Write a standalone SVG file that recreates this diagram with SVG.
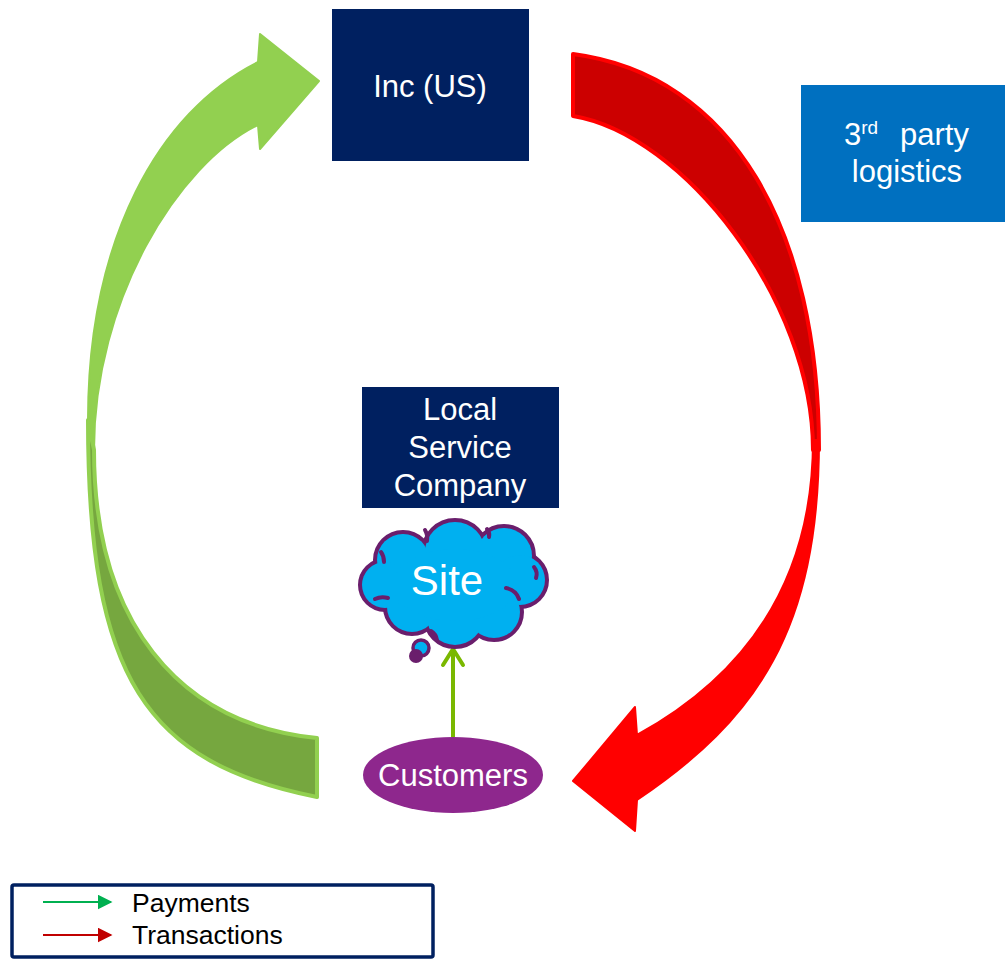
<svg xmlns="http://www.w3.org/2000/svg" xmlns:xlink="http://www.w3.org/1999/xlink" width="1005" height="960" viewBox="0 0 1005 960">
<style>
.lbl{font-family:"Liberation Sans",Arial,sans-serif;fill:#FFFFFF}
.leg{font-family:"Liberation Sans",Arial,sans-serif;fill:#000000;font-size:26.5px}
.navy{fill:#002060}
.cloudArc{fill:none;stroke:#6A1E6C;stroke-width:4;stroke-linecap:round}
</style>
<defs>
<g id="cloudShape">
<circle cx="403" cy="560" r="26"/>
<circle cx="455" cy="552" r="30"/>
<circle cx="504" cy="556" r="28"/>
<circle cx="520" cy="580" r="25"/>
<circle cx="494" cy="612" r="26"/>
<circle cx="455" cy="617" r="28"/>
<circle cx="412" cy="607" r="25"/>
<circle cx="385" cy="585" r="23"/>
<ellipse cx="455" cy="585" rx="62" ry="36"/>
</g>
<marker id="legG" viewBox="0 0 10 10" refX="9" refY="5" markerWidth="15" markerHeight="15" markerUnits="userSpaceOnUse" orient="auto"><path d="M0,0 L10,5 L0,10 Z" fill="#00B050"/></marker>
<marker id="legR" viewBox="0 0 10 10" refX="9" refY="5" markerWidth="15" markerHeight="15" markerUnits="userSpaceOnUse" orient="auto"><path d="M0,0 L10,5 L0,10 Z" fill="#C00000"/></marker>
</defs>
<rect width="1005" height="960" fill="#FFFFFF"/>

<g id="connectors">
<g id="payments-arrow">
<path d="M 88,420 C 88,680 147,763 317,797 L 317,738 C 177,724 94,620 94,450 Z" fill="#76A73F" stroke="#92D050" stroke-width="4" stroke-linejoin="round"/>
<path d="M 88,420 C 88,240 158,112 258,62 L 260,34 L 319,81 L 260,149 L 258,125 C 178,164 94,300 94,450 Z" fill="#92D050" stroke="#92D050" stroke-width="2" stroke-linejoin="round"/>
</g>
<g id="transactions-arrow">
<path d="M 573,54 C 733,75 819,230 819,450 L 813,450 C 813,300 683,134 573,116 Z" fill="#CC0000" stroke="#FF0000" stroke-width="4" stroke-linejoin="round"/>
<path d="M 819,440 C 819,630 757,719 637,800 L 635,831 L 573,781 L 635,707 L 637,735 C 747,674.5 813,580 813,440 Z" fill="#FF0000" stroke="#FF0000" stroke-width="2" stroke-linejoin="round"/>
</g>
<g id="customers-to-site">
<line x1="453" y1="737" x2="453" y2="650" stroke="#7AB800" stroke-width="4"/>
<polyline points="443,665 453,649 463,665" fill="none" stroke="#7AB800" stroke-width="4" stroke-linecap="round" stroke-linejoin="round"/>
</g>
</g>

<g id="inc-us">
<rect x="332" y="9" width="197" height="152" class="navy"/>
<text x="430" y="97" class="lbl" font-size="31" text-anchor="middle">Inc (US)</text>
</g>

<g id="third-party-logistics">
<rect x="801" y="85" width="204" height="137" fill="#0070C0"/>
<text x="844" y="145" class="lbl" font-size="31">3<tspan font-size="19" dy="-11">rd</tspan><tspan x="900" dy="11">party</tspan></text>
<text x="907" y="182" class="lbl" font-size="31" text-anchor="middle">logistics</text>
</g>

<g id="local-service-company">
<rect x="362" y="387" width="197" height="121" class="navy"/>
<text class="lbl" font-size="31" text-anchor="middle"><tspan x="460" y="420">Local</tspan><tspan x="460" y="458">Service</tspan><tspan x="460" y="496">Company</tspan></text>
</g>

<g id="site">
<use xlink:href="#cloudShape" fill="#6A1E6C" stroke="#6A1E6C" stroke-width="8"/>
<use xlink:href="#cloudShape" fill="#00B0F0"/>
<path class="cloudArc" d="M 506,588 Q 516,590 519,599"/>
<path class="cloudArc" d="M 534,567 Q 538,572 536,578"/>
<path class="cloudArc" d="M 431,631 Q 436,634 437,640"/>
<path class="cloudArc" d="M 375,599 Q 381,596 388,598"/>
<path class="cloudArc" d="M 381,552 Q 384,556 384,562"/>
<path class="cloudArc" d="M 425,530 Q 428,535 427,541"/>
<path class="cloudArc" d="M 487,529 Q 490,533 489,537"/>
<circle cx="421" cy="648" r="8" fill="#00B0F0" stroke="#6A1E6C" stroke-width="3.5"/>
<circle cx="416" cy="656" r="7" fill="#6A1E6C"/>
<text x="447" y="595" class="lbl" font-size="42" text-anchor="middle">Site</text>
</g>

<g id="customers">
<ellipse cx="453" cy="775" rx="90" ry="38" fill="#8E278D"/>
<text x="453" y="786" class="lbl" font-size="31" text-anchor="middle">Customers</text>
</g>

<g id="legend">
<rect x="12" y="885" width="421" height="72" rx="2" fill="#FFFFFF" stroke="#002060" stroke-width="3.5"/>
<line x1="43" y1="902" x2="111" y2="902" stroke="#00B050" stroke-width="2" marker-end="url(#legG)"/>
<line x1="43" y1="935" x2="111" y2="935" stroke="#C00000" stroke-width="2" marker-end="url(#legR)"/>
<text x="132" y="912" class="leg">Payments</text>
<text x="132" y="944" class="leg">Transactions</text>
</g>
</svg>
